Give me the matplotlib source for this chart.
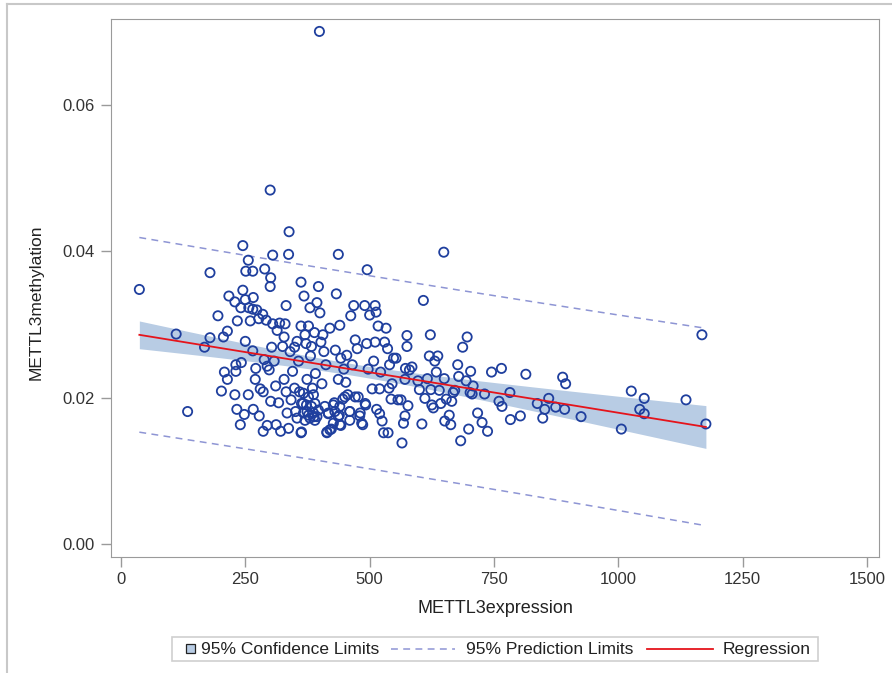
import numpy as np
import matplotlib.pyplot as plt
from matplotlib.patches import Rectangle
from matplotlib.lines import Line2D

plt.rcParams['font.family'] = ['Liberation Sans', 'DejaVu Sans']

# METTL3 expression (x) and methylation (y)
expression = [
    37, 111, 134, 168, 179, 179, 195, 202, 206, 208, 214, 217, 214, 229, 229, 231, 231, 234, 233, 240,
    241, 242, 245, 245, 248, 250, 250, 251, 256, 257, 260, 256, 265, 266, 265, 265, 266, 270, 271, 273,
    277, 278, 280, 285, 286, 286, 288, 289, 292, 294, 294, 300, 301, 300, 298, 301, 303, 305, 305, 308,
    311, 312, 314, 317, 319, 321, 325, 328, 328, 330, 332, 332, 334, 337, 338, 337, 340, 342, 345, 349,
    349, 351, 354, 354, 357, 359, 362, 362, 362, 366, 368, 370, 372, 374, 374, 377, 380, 381, 383, 385,
    388, 389, 391, 394, 397, 399, 400, 402, 404, 406, 408, 412, 414, 417, 420, 423, 429, 431, 433, 437,
    437, 439, 440, 442, 442, 446, 448, 452, 454, 456, 460, 462, 465, 468, 471, 475, 477, 480, 486, 490,
    492, 494, 495, 497, 500, 505, 508, 511, 511, 513, 514, 517, 520, 520, 522, 525, 528, 530, 533, 536,
    537, 539, 540, 543, 545, 548, 553, 557, 563, 565, 568, 571, 571, 575, 575, 572, 577, 580, 585, 597,
    600, 605, 608, 611, 616, 620, 622, 623, 625, 628, 631, 634, 637, 640, 643, 649, 650, 651, 654, 660,
    663, 665, 668, 671, 677, 679, 683, 687, 694, 696, 699, 702, 703, 706, 708, 717, 726, 731, 737, 745,
    760, 765, 766, 782, 783, 803, 814, 837, 848, 852, 860, 874, 888, 894, 892, 925, 1006, 1026, 1043, 1052,
    1052, 1136, 1168, 1176,
    367, 377, 387, 363, 373, 383, 390, 367, 377, 387, 394, 370, 380, 390, 363, 397, 410, 417, 427, 430,
    440, 437, 450, 460, 471, 481, 491, 484, 460, 440, 420, 414, 427,
]
methylation = [
    0.0348, 0.0287, 0.0181, 0.0269, 0.0371, 0.0282, 0.0312, 0.0209, 0.0283, 0.0235, 0.0291, 0.0339, 0.0225, 0.0331, 0.0204, 0.0245, 0.0236, 0.0305, 0.0184, 0.0163,
    0.0323, 0.0248, 0.0408, 0.0347, 0.0177, 0.0277, 0.0334, 0.0373, 0.0388, 0.0323, 0.0305, 0.0204, 0.0373, 0.0337, 0.0321, 0.0264, 0.0184, 0.0225, 0.0240, 0.0320,
    0.0308, 0.0175, 0.0212, 0.0314, 0.0208, 0.0154, 0.0252, 0.0376, 0.0306, 0.0243, 0.0162, 0.0484, 0.0364, 0.0352, 0.0238, 0.0195, 0.0269, 0.0395, 0.0301, 0.0250,
    0.0216, 0.0163, 0.0292, 0.0193, 0.0302, 0.0154, 0.0270, 0.0283, 0.0225, 0.0301, 0.0326, 0.0208, 0.0179, 0.0158, 0.0427, 0.0396, 0.0263, 0.0197, 0.0236, 0.0269,
    0.0213, 0.0181, 0.0277, 0.0172, 0.0250, 0.0208, 0.0358, 0.0298, 0.0152, 0.0192, 0.0339, 0.0286, 0.0274, 0.0225, 0.0181, 0.0298, 0.0323, 0.0257, 0.0270, 0.0213,
    0.0174, 0.0289, 0.0233, 0.0330, 0.0352, 0.0701, 0.0316, 0.0276, 0.0219, 0.0286, 0.0263, 0.0245, 0.0152, 0.0178, 0.0295, 0.0157, 0.0193, 0.0265, 0.0342, 0.0396,
    0.0225, 0.0176, 0.0299, 0.0254, 0.0162, 0.0198, 0.0239, 0.0221, 0.0258, 0.0204, 0.0181, 0.0312, 0.0245, 0.0326, 0.0279, 0.0267, 0.0201, 0.0175, 0.0163, 0.0326,
    0.0190, 0.0274, 0.0375, 0.0239, 0.0313, 0.0212, 0.0250, 0.0326, 0.0276, 0.0317, 0.0184, 0.0298, 0.0212, 0.0178, 0.0235, 0.0168, 0.0152, 0.0276, 0.0295, 0.0267,
    0.0152, 0.0213, 0.0245, 0.0198, 0.0219, 0.0254, 0.0254, 0.0197, 0.0197, 0.0138, 0.0165, 0.0225, 0.0175, 0.0285, 0.0270, 0.0240, 0.0189, 0.0238, 0.0242, 0.0223,
    0.0211, 0.0164, 0.0333, 0.0199, 0.0226, 0.0257, 0.0286, 0.0211, 0.0190, 0.0186, 0.0250, 0.0235, 0.0257, 0.0210, 0.0192, 0.0399, 0.0226, 0.0168, 0.0198, 0.0176,
    0.0163, 0.0195, 0.0207, 0.0210, 0.0245, 0.0229, 0.0141, 0.0269, 0.0223, 0.0283, 0.0157, 0.0207, 0.0236, 0.0205, 0.0216, 0.0179, 0.0166, 0.0205, 0.0154, 0.0235,
    0.0195, 0.0240, 0.0188, 0.0207, 0.0170, 0.0175, 0.0232, 0.0192, 0.0172, 0.0184, 0.0199, 0.0187, 0.0228, 0.0219, 0.0184, 0.0174, 0.0157, 0.0209, 0.0184, 0.0199,
    0.0178, 0.0197, 0.0286, 0.0164,
    0.0206, 0.0201, 0.0204, 0.0192, 0.0190, 0.0188, 0.0192, 0.0179, 0.0176, 0.0179, 0.0174, 0.0169, 0.0172, 0.0169, 0.0153, 0.0183, 0.0188, 0.0179, 0.0190, 0.0181,
    0.0188, 0.0174, 0.0201, 0.0181, 0.0201, 0.0179, 0.0192, 0.0165, 0.0169, 0.0163, 0.0156, 0.0153, 0.0165,
]

x_ticks = [0, 250, 500, 750, 1000, 1250, 1500]
y_ticks = [0.00, 0.02, 0.04, 0.06]
legend_labels = ['95% Confidence Limits', '95% Prediction Limits', 'Regression']
T_975 = 1.968  # two-sided 95% t quantile, ~300 df


def fit_bands(x, y):
    x = np.asarray(x, float)
    y = np.asarray(y, float)
    n = len(x)
    b1, b0 = np.polyfit(x, y, 1)
    s = np.sqrt(np.sum((y - (b0 + b1 * x)) ** 2) / (n - 2))
    sxx = np.sum((x - x.mean()) ** 2)
    xs = np.linspace(x.min(), x.max(), 200)
    fit = b0 + b1 * xs
    h = 1. / n + (xs - x.mean()) ** 2 / sxx
    ci = T_975 * s * np.sqrt(h)
    pi = T_975 * s * np.sqrt(1 + h)
    return xs, fit, ci, pi


blue = '#1f3f9e'
band = '#b8cce4'
pred = '#8e95d4'
red = '#e5141b'
grey = '#9a9a9a'
dash = (0, (4.5, 3.5))

W, H = 892., 673.
fig = plt.figure(figsize=(W / 100, H / 100), dpi=100)
ax = fig.add_axes([111 / W, 1 - 557 / H, 768 / W, 538 / H])

xs, fit, ci, pi = fit_bands(expression, methylation)
ax.fill_between(xs, fit - ci, fit + ci, color=band, lw=0, zorder=1)
ax.scatter(expression, methylation, s=44, facecolors='none', edgecolors=blue, linewidths=1.3, zorder=3)
ax.plot(xs, fit - pi, ls=dash, color=pred, lw=1.1, zorder=2)
ax.plot(xs, fit + pi, ls=dash, color=pred, lw=1.1, zorder=2)
ax.plot(xs, fit, color=red, lw=1.3, zorder=4)

ax.set_xlim(-20, 1524)
ax.set_ylim(-0.0018, 0.0718)
ax.set_xticks(x_ticks)
ax.set_yticks(y_ticks)
ax.set_yticklabels(['%.2f' % v for v in y_ticks])
ax.tick_params(colors=grey, labelcolor='#333333', labelsize=12, length=7, width=1)
ax.tick_params(axis='x', pad=4)
ax.tick_params(axis='y', pad=5)
for sp in ax.spines.values():
    sp.set_color(grey)
ax.set_xlabel('METTL3expression', fontsize=13, color='#222222', labelpad=9)
ax.set_ylabel('METTL3methylation', fontsize=12.5, color='#222222')
ax.yaxis.set_label_coords((44 - 111) / 768., (557 - 302) / 538.)


def px(x, y):
    return x / W, 1 - y / H


# legend drawn in pixel positions of the reference
fig.add_artist(Rectangle(px(172, 661), 646 / W, 24 / H, facecolor='white',
                         edgecolor='#cfcfcf', lw=1.2))
fig.add_artist(Rectangle(px(186, 653), 9 / W, 9 / H, facecolor=band,
                         edgecolor='#222222', lw=0.9))
fig.add_artist(Line2D([391 / W, 455 / W], [1 - 649 / H] * 2, ls=dash, color=pred, lw=1.1))
fig.add_artist(Line2D([647 / W, 713 / W], [1 - 649 / H] * 2, color=red, lw=1.3))
for xpos, lab in zip([201, 466, 723], legend_labels):
    fig.text(*px(xpos, 654), lab, fontsize=12.5, color='#222222', ha='left', va='baseline')

# outer border of the screenshot
fig.add_artist(Line2D([7 / W, 1], [1 - 4 / H] * 2, color='#c8c8c8', lw=1.5))
fig.add_artist(Line2D([7 / W] * 2, [0, 1 - 4 / H], color='#c8c8c8', lw=1.5))

fig.savefig('out.png', dpi=100)
